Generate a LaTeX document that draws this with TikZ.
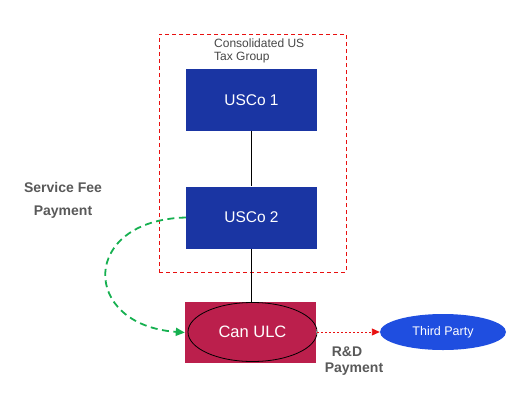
\documentclass[tikz,border=0pt]{standalone}
\usepackage{fontspec}
\setmainfont{Liberation Sans}
\usetikzlibrary{positioning,arrows.meta,shapes.geometric}
\definecolor{cNavy}{HTML}{1A35A3}
\definecolor{cCrimson}{HTML}{BB1F4C}
\definecolor{cRoyal}{HTML}{1F4EE0}
\definecolor{cGreen}{HTML}{16B050}
\definecolor{cRed}{HTML}{E81010}
\definecolor{cGray}{HTML}{595959}

\begin{document}
\begin{tikzpicture}[x=1pt, y=-1pt,
  entity/.style={fill=cNavy, minimum width=131pt, minimum height=62pt,
    inner sep=0pt, text=white, font=\fontsize{15.5}{17}\selectfont},
  ulcbox/.style={fill=cCrimson, minimum width=131pt, minimum height=61pt,
    inner sep=0pt},
  ulc/.style={ellipse, draw=black, line width=0.8pt, minimum width=129pt,
    minimum height=59pt, inner sep=0pt, text=white,
    font=\fontsize{16.5}{18}\selectfont},
  party/.style={ellipse, fill=cRoyal, minimum width=126pt, minimum height=36pt,
    inner sep=0pt, text=white, font=\fontsize{12.5}{14}\selectfont},
  lbl/.style={text=cGray, font=\bfseries\fontsize{14}{16}\selectfont, align=center},
  link/.style={line width=0.8pt, draw=black},
  fee/.style={line width=1.8pt, draw=cGreen, dash pattern=on 7pt off 4.5pt,
    -{Triangle[length=9pt, width=8pt]}},
  rd/.style={line width=0.9pt, draw=cRed, dash pattern=on 2pt off 2pt,
    -{Triangle[length=8pt, width=7pt]}}]

  \useasboundingbox (0,0) rectangle (520,400);

  % tax group
  \node[draw=cRed, line width=0.8pt, dash pattern=on 4pt off 3pt,
    minimum width=187pt, minimum height=238pt, inner sep=0pt] (group) at (252.5,153) {};
  \node[anchor=north west, align=left, inner sep=0pt, text=cGray!80!black,
    font=\fontsize{12}{13}\selectfont] (grouplbl) at (214,38.5)
    {Consolidated US\\Tax Group};

  \node[entity] (us1) at (251.5,100) {USCo 1};
  \node[entity] (us2) at (251.5,217.5) {USCo 2};

  \node[ulcbox] (ulcbg) at (250.5,332.5) {};
  \node[ulc] (can) at (252.5,332) {Can ULC};

  \node[party] (third) at (443,332) {Third Party};

  \draw[link] (us1) -- (us2);
  \draw[link] (us2.south) -- (ulcbg.north -| us2.south);

  \draw[fee] (us2.west) .. controls (80,220) and (80,325) .. (ulcbg.west);
  \draw[rd] (can.east) -- (third.west);

  \node[lbl] (feelbl) at (63,187) {Service Fee};
  \node[lbl] (feelbl2) at (63,212) {Payment};
  \node[lbl] (rdlbl) at (347,352) {R\&D};
  \node[lbl] (rdlbl2) at (354,369) {Payment};
\end{tikzpicture}
\end{document}
